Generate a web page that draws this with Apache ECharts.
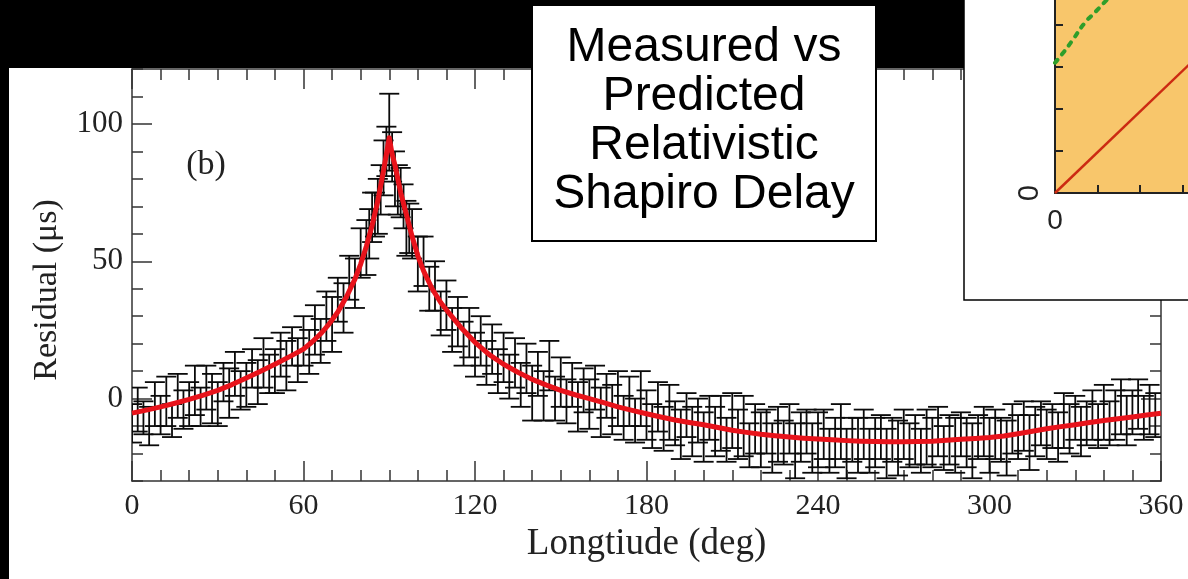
<!DOCTYPE html>
<html>
<head>
<meta charset="utf-8">
<script src="https://cdn.jsdelivr.net/npm/echarts@6/dist/echarts.min.js"></script>
<style>html,body{margin:0;padding:0;background:#000;}#chart{width:1188px;height:579px;}</style>
</head>
<body>
<div id="chart"></div>
<script>
// ---------- data ----------
const longitude = [
  0,2,4,6,8,10,12,14,16,18,
  20,22,24,26,28,30,32,34,36,38,
  40,42,44,46,48,50,52,54,56,58,
  60,62,64,66,68,70,72,74,76,78,
  80,82,83,84,85,86,87,88,89,90,91,92,93,94,95,96,97,98,
  100,102,104,106,108,110,112,114,116,118,
  120,122,124,126,128,130,132,134,136,138,
  140,142,144,146,148,150,152,154,156,158,
  160,162,164,166,168,170,172,174,176,178,
  180,182,184,186,188,190,192,194,196,198,
  200,202,204,206,208,210,212,214,216,218,
  220,222,224,226,228,230,232,234,236,238,
  240,242,244,246,248,250,252,254,256,258,
  260,262,264,266,268,270,272,274,276,278,
  280,282,284,286,288,290,292,294,296,298,
  300,302,304,306,308,310,312,314,316,318,
  320,322,324,326,328,330,332,334,336,338,
  340,342,344,346,348,350,352,354,356,358
];
const residual = [
  -9,-4,-7,-10,-2,-6,-1,-8,1,-4,
  -2,3,-3,4,0,-2,6,2,9,3,
  5,11,6,13,9,10,16,12,19,14,
  21,17,25,21,30,27,36,33,44,42,
  53,55,60,66,67,70,76,84,90,97,88,80,76,75,70,62,62,60,
  49,50,40,41,31,34,25,28,20,24,
  16,21,13,18,10,15,8,13,5,11,
  2,9,1,12,0,6,-1,5,-3,3,
  -2,4,-5,1,-4,0,-7,-1,-8,0,
  -6,-10,-3,-11,-5,-9,-13,-6,-12,-8,
  -14,-7,-12,-9,-15,-8,-13,-10,-17,-11,
  -15,-12,-18,-13,-16,-11,-19,-14,-12,-18,
  -15,-13,-19,-16,-12,-20,-15,-17,-13,-19,
  -16,-14,-20,-15,-18,-13,-17,-15,-19,-14,
  -16,-12,-18,-15,-17,-13,-16,-19,-14,-12,
  -17,-13,-15,-18,-11,-14,-10,-16,-12,-9,
  -13,-10,-14,-8,-11,-7,-12,-9,-6,-10,
  -5,-9,-6,-3,-8,-5,-2,-7,-4,-6
];
const errorBar = [
  7,8,6,7,8,7,9,6,8,7,
  8,9,7,8,9,8,7,9,8,7,
  8,7,8,9,7,8,8,9,7,8,
  9,8,9,8,9,10,8,9,8,9,
  9,10,9,9,8,10,9,10,9,14,9,10,9,9,8,10,9,9,
  10,9,8,9,8,9,8,9,8,9,
  8,9,8,9,8,9,8,9,8,9,
  10,8,9,9,8,9,8,8,9,8,
  9,8,9,8,9,10,8,9,8,10,
  9,8,9,8,10,8,9,8,9,8,
  9,8,9,10,8,10,9,11,8,9,
  10,8,9,10,8,9,10,9,8,9,
  10,9,8,9,10,9,8,10,9,8,
  9,8,9,8,10,9,8,9,8,10,
  9,9,8,9,10,8,9,10,8,9,
  10,9,8,10,9,8,9,10,9,8,
  9,8,9,10,9,8,9,8,9,8,
  10,8,9,10,9,8,9,8,9,8
];
const fitLongitude = [
  0,5,10,15,20,25,30,35,40,45,50,55,60,63,66,69,72,75,78,80,82,84,86,88,89,90,
  91,92,94,96,98,100,102,105,108,111,115,120,125,130,135,140,145,150,155,160,165,170,175,180,
  185,190,195,200,205,210,215,220,225,230,235,240,245,250,255,260,265,270,275,280,
  285,290,295,300,305,310,315,320,325,330,335,340,345,350,355,360
];
const fitResidual = [
  -5.3,-4.2,-3,-1.7,-0.3,1.3,3,5.1,7.5,10,12.5,15.2,18,20.6,23.6,27.2,31.5,37,43.5,49,55.5,63,72,83,89,95,
  89,85,75,67,59,52,46.5,40,35,31,26,20.5,16,12.5,9.6,7,4.9,3,1.4,0,-1.5,-3,-4.3,-5.5,
  -6.7,-7.8,-8.7,-9.5,-10.5,-11.5,-12.3,-13,-13.5,-14,-14.4,-14.7,-15,-15.3,-15.5,-15.6,-15.7,-15.7,-15.6,-15.5,
  -15.2,-14.8,-14.5,-14.2,-13.6,-12.8,-11.9,-11,-10.2,-9.5,-8.7,-8,-7.3,-6.7,-6,-5.3
];
const xTickValues = [0,60,120,180,240,300,360];
const yLabelValues = [0,50,100];

// inset (partially visible) panel
const insetRedX = [0, 3.2];
const insetRedY = [0, 6.2];
const insetGreenX = [0, 0.24, 0.42, 0.7, 0.94, 1.22];
const insetGreenY = [6.2, 6.8, 7.3, 8.1, 8.6, 9.2];

const boxText = 'Measured vs\nPredicted\nRelativistic\nShapiro Delay';

// ---------- chart ----------
const errData = longitude.map((x, i) => [x, residual[i], errorBar[i]]);
const fitData = fitLongitude.map((x, i) => [x, fitResidual[i]]);
const redData = insetRedX.map((x, i) => [x, insetRedY[i]]);
const greenData = insetGreenX.map((x, i) => [x, insetGreenY[i]]);

const AX = '#333';
const serif = 'Liberation Serif';
const sans = 'Liberation Sans';

function xAx(pos, showLabel) {
  return {
    gridIndex: 0, type: 'value', position: pos, min: 0, max: 360, interval: 60,
    axisLine: {show: true, onZero: false, lineStyle: {color: AX, width: 1.5}},
    axisTick: {show: true, inside: true, length: 20, lineStyle: {color: AX, width: 1.5}},
    minorTick: {show: true, splitNumber: 6, length: 11, lineStyle: {color: AX, width: 1.5}},
    splitLine: {show: false},
    axisLabel: {show: showLabel, margin: 10, fontFamily: serif, fontSize: 30, color: '#222'},
    name: showLabel ? 'Longtiude (deg)' : '',
    nameLocation: 'middle', nameGap: 43,
    nameTextStyle: {fontFamily: serif, fontSize: 37, color: '#222'}
  };
}
function yMinor(pos, withName) {
  return {
    gridIndex: 0, type: 'value', position: pos, min: -30, max: 120, interval: 10,
    axisLine: {show: true, onZero: false, lineStyle: {color: AX, width: 1.5}},
    axisTick: {show: true, inside: true, length: 11, lineStyle: {color: AX, width: 1.5}},
    splitLine: {show: false},
    axisLabel: {show: withName, customValues: yLabelValues, margin: 9, fontFamily: serif, fontSize: 31, color: '#222'},
    name: withName ? 'Residual (μs)' : '',
    nameLocation: 'middle', nameGap: 68,
    nameTextStyle: {fontFamily: serif, fontSize: 34, color: '#222', padding: [0, 0, 0, -30]}
  };
}
function yMajor(pos) {
  return {
    gridIndex: 0, type: 'value', position: pos, min: -30, max: 120, interval: 10,
    axisLine: {show: false, onZero: false},
    axisTick: {show: true, inside: true, length: 20, customValues: yLabelValues, lineStyle: {color: AX, width: 1.5}},
    splitLine: {show: false},
    axisLabel: {show: false}
  };
}

const option = {
  backgroundColor: '#000',
  animation: false,
  grid: [
    {left: 132, right: 27, top: 69, bottom: 98},
    {left: 1055, right: 0, top: 0, bottom: 386, show: true, backgroundColor: '#F8C66B', borderWidth: 0, z: 3}
  ],
  xAxis: [
    xAx('bottom', true),
    xAx('top', false),
    {
      gridIndex: 1, type: 'value', min: 0, max: 3.13, interval: 1, z: 5,
      axisLine: {show: true, onZero: false, lineStyle: {color: '#222', width: 2}},
      axisTick: {show: true, inside: true, length: 8, lineStyle: {color: '#222', width: 2}},
      splitLine: {show: false},
      axisLabel: {margin: 14, fontFamily: sans, fontSize: 28, color: '#222', showMaxLabel: false,
        formatter: v => (v % 5 === 0 ? String(v) : '')}
    }
  ],
  yAxis: [
    yMinor('left', true),
    yMajor('left'),
    yMinor('right', false),
    yMajor('right'),
    {
      gridIndex: 1, type: 'value', min: 0, max: 9.19, interval: 2, z: 5,
      axisLine: {show: true, onZero: false, lineStyle: {color: '#222', width: 2}},
      axisTick: {show: true, inside: true, length: 8, lineStyle: {color: '#222', width: 2}},
      splitLine: {show: false},
      axisLabel: {margin: 15, rotate: -90, fontFamily: sans, fontSize: 29, color: '#222', showMaxLabel: false,
        formatter: v => (v % 10 === 0 ? String(v) : '')}
    }
  ],
  graphic: {elements: [
    {type: 'rect', shape: {x: 9, y: 68, width: 1179, height: 511}, style: {fill: '#fff'}, z: -10, silent: true},
    {type: 'rect', shape: {x: 964, y: -5, width: 230, height: 305}, style: {fill: '#fff', stroke: '#000', lineWidth: 1.5}, z: 1, silent: true},
    {type: 'rect', shape: {x: 532, y: 5, width: 344, height: 236}, style: {fill: '#fff', stroke: '#000', lineWidth: 2}, z: 10, silent: true},
    {type: 'text', x: 704, y: 121, z: 11, silent: true,
      style: {text: boxText, font: '48px "Liberation Sans"', fill: '#000', align: 'center', verticalAlign: 'middle', lineHeight: 49}},
    {type: 'text', x: 206, y: 165, z: 4, silent: true,
      style: {text: '(b)', font: '34px "Liberation Serif"', fill: '#222', align: 'center', verticalAlign: 'middle'}}
  ]},
  series: [
    {
      type: 'custom', xAxisIndex: 0, yAxisIndex: 0, z: 2, clip: true,
      data: errData,
      renderItem: function (params, api) {
        const x = api.value(0), y = api.value(1), e = api.value(2);
        const t = api.coord([x, y + e]);
        const b = api.coord([x, y - e]);
        const hw = 10;
        const st = {stroke: '#0a0a0a', lineWidth: 1.8};
        return {type: 'group', children: [
          {type: 'line', shape: {x1: t[0], y1: t[1], x2: b[0], y2: b[1]}, style: st},
          {type: 'line', shape: {x1: t[0] - hw, y1: t[1], x2: t[0] + hw, y2: t[1]}, style: st},
          {type: 'line', shape: {x1: b[0] - hw, y1: b[1], x2: b[0] + hw, y2: b[1]}, style: st}
        ]};
      }
    },
    {
      type: 'line', xAxisIndex: 0, yAxisIndex: 0, z: 3, data: fitData,
      showSymbol: false, smooth: false,
      lineStyle: {color: '#e8131b', width: 5, join: 'round'}
    },
    {
      type: 'line', xAxisIndex: 2, yAxisIndex: 4, z: 6, data: redData, clip: true,
      showSymbol: false, lineStyle: {color: '#cc2a12', width: 2.5}
    },
    {
      type: 'line', xAxisIndex: 2, yAxisIndex: 4, z: 6, data: greenData, clip: true,
      showSymbol: false, smooth: true,
      lineStyle: {color: '#2e9e2a', width: 4, type: [4, 7], cap: 'round'}
    }
  ]
};

const chart = echarts.init(document.getElementById('chart'), null, {renderer: 'canvas'});
chart.setOption(option);
</script>
</body>
</html>
